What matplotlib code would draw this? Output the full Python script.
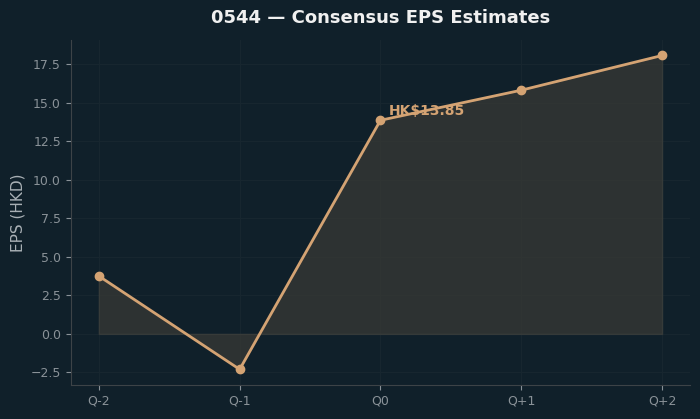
import numpy as np
import matplotlib.pyplot as plt

# Data
quarters = ["Q-2", "Q-1", "Q0", "Q+1", "Q+2"]
eps = [3.75, -2.3, 13.85, 15.8, 18.05]
current_label = "HK$13.85"
current_idx = 2

bg = "#10202a"
accent = "#d4a373"

fig, ax = plt.subplots(figsize=(7, 4.19), dpi=100)
fig.patch.set_facecolor(bg)
ax.set_facecolor(bg)

x = np.arange(len(quarters))
ax.fill_between(x, eps, 0, color="#3a3a36", alpha=0.7, linewidth=1, edgecolor="#3f413d")
ax.plot(x, eps, color=accent, linewidth=2, marker="o", markersize=6, zorder=3)

ax.annotate(current_label, (x[current_idx], eps[current_idx]), xytext=(6, 4),
            textcoords="offset points", color=accent, fontsize=10, fontweight="bold")

ax.set_xticks(x)
ax.set_xticklabels(quarters)
ax.set_title("0544 — Consensus EPS Estimates", color="#f0f0f0", fontsize=13,
             fontweight="bold", pad=12)
ax.set_ylabel("EPS (HKD)", color="#a9b0b5", fontsize=11)
ax.tick_params(colors="#8a9298", labelsize=9)
for s in ["top", "right"]:
    ax.spines[s].set_visible(False)
for s in ["left", "bottom"]:
    ax.spines[s].set_color("#3d4347")
ax.grid(True, color="#17262f", linewidth=0.8)
ax.set_axisbelow(True)

plt.subplots_adjust(left=0.101, right=0.986, top=0.905, bottom=0.081)
plt.savefig("out.png", facecolor=bg)
